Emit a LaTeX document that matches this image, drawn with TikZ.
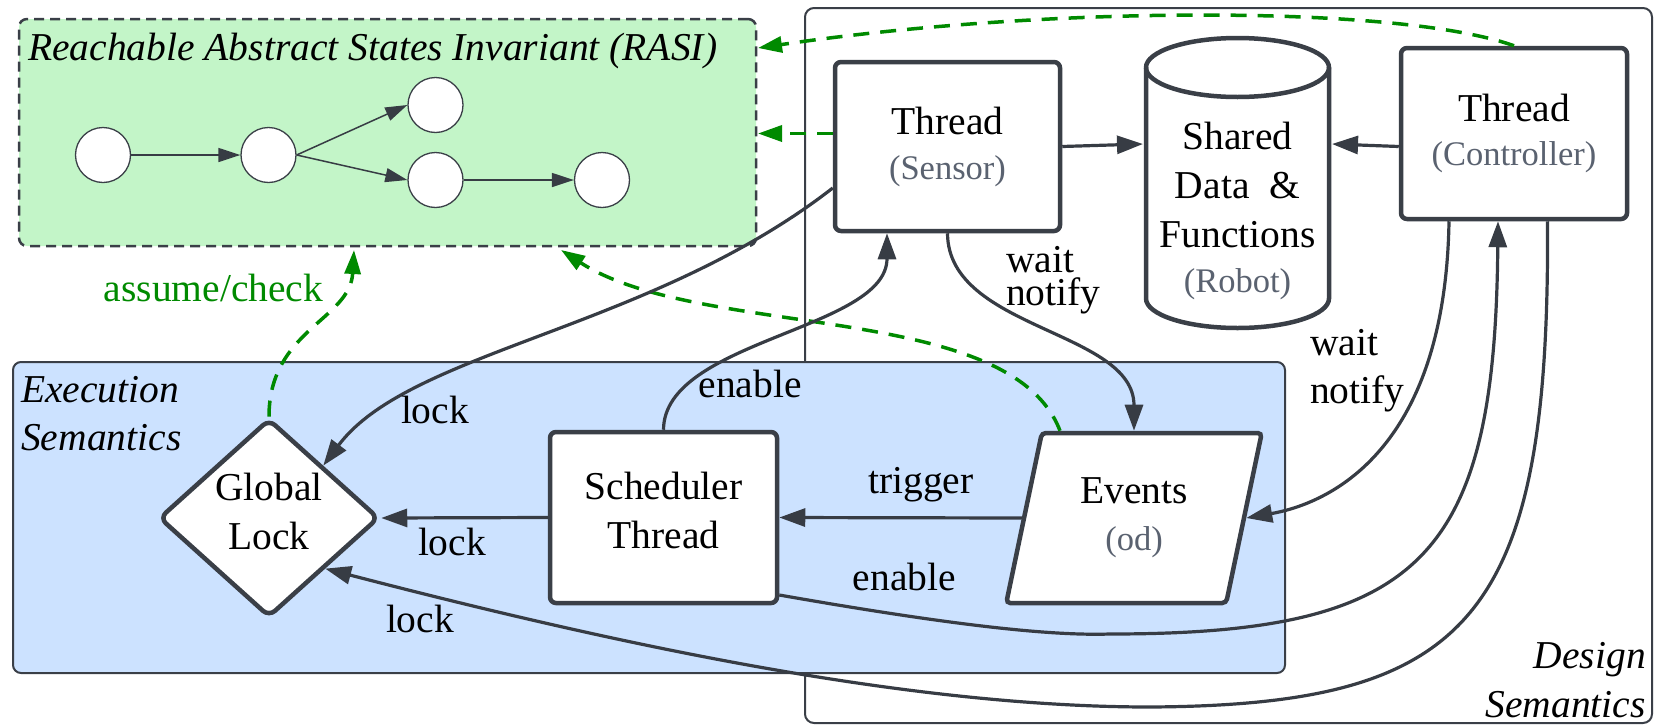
\documentclass[tikz,border=0pt]{standalone}
\usepackage{fontspec}
\setmainfont{Liberation Serif}
\usetikzlibrary{arrows.meta,shapes.geometric}

\definecolor{edgegray}{RGB}{55,60,68}
\definecolor{boxgray}{RGB}{58,63,71}
\definecolor{subgray}{RGB}{90,98,112}
\definecolor{rasigreen}{RGB}{195,245,200}
\definecolor{execblue}{RGB}{204,226,255}
\definecolor{checkgreen}{RGB}{0,138,0}

\newcommand\bigtext{\fontsize{39.5}{48}\selectfont}
\newcommand\subtext{\fontsize{34.5}{40}\selectfont\color{subgray}}

\tikzset{
    threadbox/.style={draw=boxgray, line width=4.5pt, fill=white, rounded corners=6pt, align=center, font=\bigtext, inner sep=0pt},
    state/.style={draw=boxgray, line width=1.3pt, fill=white, circle, minimum size=55pt, inner sep=0pt},
    flow/.style={draw=edgegray, line width=3.2pt, -{Triangle[length=26pt,width=18pt]}},
    smallflow/.style={draw=edgegray, line width=1.5pt, -{Triangle[length=22pt,width=14pt]}},
    check/.style={draw=checkgreen, line width=3.5pt, dash pattern=on 16pt off 11pt, -{Triangle[length=24pt,width=16pt]}},
    edgelabel/.style={font=\bigtext, inner sep=0pt},
}

\begin{document}
\begin{tikzpicture}[x=1pt,y=-1pt]
    \useasboundingbox (0,0) rectangle (1665,726);

    \node[draw=boxgray, line width=2pt, rounded corners=9pt, minimum width=847pt, minimum height=715pt] (design) at (1228.5,365.5) {};
    \node[draw=boxgray, line width=2.5pt, dash pattern=on 10pt off 6pt, fill=rasigreen, rounded corners=8pt, minimum width=737pt, minimum height=227pt] (rasi) at (387.5,132.5) {};
    \node[draw=boxgray, line width=2pt, fill=execblue, rounded corners=8pt, minimum width=1272pt, minimum height=311pt] (exec) at (649,517.5) {};

    \node[font=\bigtext\itshape, anchor=base west, inner sep=0pt] (rasi-title) at (28,60) {Reachable Abstract States Invariant (RASI)};
    \node[font=\bigtext\itshape, anchor=base west, align=left, inner sep=0pt] (exec-title) at (21,450) {Execution\\Semantics};
    \node[font=\bigtext\itshape, anchor=base east, align=right, inner sep=0pt] (design-title) at (1646,717) {Design\\[1pt]Semantics};

    \node[state] (s1) at (103,155) {};
    \node[state] (s2) at (268.5,155) {};
    \node[state] (s3) at (435.5,105) {};
    \node[state] (s4) at (435.5,180) {};
    \node[state] (s5) at (602,180) {};
    \draw[smallflow] (s1) -- (s2);
    \draw[smallflow] (s2.east) -- (s3.west);
    \draw[smallflow] (s2.east) -- (s4.west);
    \draw[smallflow] (s4) -- (s5);

    \node[threadbox, minimum width=225pt, minimum height=169pt] (sensor) at (947.5,146.5) {Thread\\[-3pt]{\subtext (Sensor)}};
    \node[threadbox, minimum width=226pt, minimum height=171pt] (controller) at (1514,133.5) {Thread\\[-4pt]{\subtext (Controller)}};
    \node[threadbox, minimum width=227pt, minimum height=171pt] (scheduler) at (663.5,517.5) {Scheduler\\[1pt]Thread\strut};
    \node[threadbox, trapezium, trapezium left angle=75.5, trapezium right angle=104.5, trapezium stretches=true, rounded corners=4pt, minimum width=256pt, minimum height=170pt] (events) at (1134,518) {Events\\[-1pt]{\subtext (od)}};
    \node[threadbox, diamond, rounded corners=8pt, minimum width=220pt, minimum height=194pt] (lock) at (269,518) {Global\\[1pt]Lock\strut};

    \draw[boxgray, line width=4.5pt, fill=white] (1146,67.5) -- (1146,298.5) arc[start angle=180, end angle=0, x radius=91.5, y radius=29.5] -- (1329,67.5) arc[start angle=0, end angle=-180, x radius=91.5, y radius=29.5] -- cycle;
    \draw[boxgray, line width=4.5pt] (1146,67.5) arc[start angle=180, end angle=0, x radius=91.5, y radius=29.5];
    \node[font=\bigtext, align=center, inner sep=0pt] (robot) at (1237.5,211) {Shared\\[1pt]Data~~\&\\[1pt]Functions\\[-3pt]{\subtext (Robot)}};
    \coordinate (robot-west) at (1143,144);
    \coordinate (robot-east) at (1332,144);

    \coordinate (rasi-top) at (758,48);
    \coordinate (rasi-side) at (758,133.5);
    \coordinate (rasi-low) at (354,250);
    \coordinate (rasi-mid) at (561,250);

    \draw[check] (controller.north) .. controls (1400,5) and (1050,5) .. (rasi-top);
    \draw[check] ([yshift=13pt]sensor.west) -- (rasi-side);
    \draw[check] (lock.north) .. controls (269,330) and (350,320) .. (rasi-low);
    \draw[check] ([xshift=20pt]events.top left corner) .. controls (1010,300) and (700,340) .. (rasi-mid);
    \node[edgelabel, text=checkgreen, anchor=base] (lbl-check) at (213.5,301) {assume/check};

    \draw[flow] (sensor.east) -- (robot-west);
    \draw[flow] ([yshift=-13pt]controller.west) -- (robot-east);

    \draw[flow] ([yshift=-41.5pt]sensor.west) .. controls (650,330) and (410,350) .. (lock.44);
    \node[edgelabel, anchor=base] (lbl-lock1) at (435,423) {lock};

    \draw[flow] (scheduler.north) .. controls (664,340) and (887,330) .. ([xshift=-60.5pt]sensor.south);
    \node[edgelabel, anchor=base] (lbl-enable1) at (750,397) {enable};

    \draw[flow] (sensor.south) .. controls (948,330) and (1134,330) .. (events.center |- events.north);
    \node[edgelabel, anchor=base west, align=left, font=\fontsize{39.5}{33}\selectfont] (lbl-wait1) at (1006,305) {wait\\notify};

    \draw[flow] (events.west) -- (scheduler.east);
    \node[edgelabel, anchor=base] (lbl-trigger) at (921,493) {trigger};

    \draw[flow] (scheduler.west) -- (lock.east);
    \node[edgelabel, anchor=base] (lbl-lock2) at (452,555) {lock};

    \draw[flow] ([xshift=-65pt]controller.south) .. controls (1445,460) and (1320,505) .. (events.east);
    \node[edgelabel, anchor=base west, align=left] (lbl-wait2) at (1310,403) {wait\\notify};

    \draw[flow] ([yshift=-77.5pt]scheduler.east) .. controls (950,625) and (1050,636) .. (1110,634) .. controls (1420,634) and (1495,560) .. ([xshift=-16pt]controller.south);
    \node[edgelabel, anchor=base] (lbl-enable2) at (904.5,590) {enable};

    \draw[flow] ([xshift=33.5pt]controller.south) .. controls (1550,620) and (1470,705) .. (1150,707) .. controls (900,707) and (600,640) .. (lock.-42);
    \node[edgelabel, anchor=base] (lbl-lock3) at (420,632) {lock};
\end{tikzpicture}
\end{document}
